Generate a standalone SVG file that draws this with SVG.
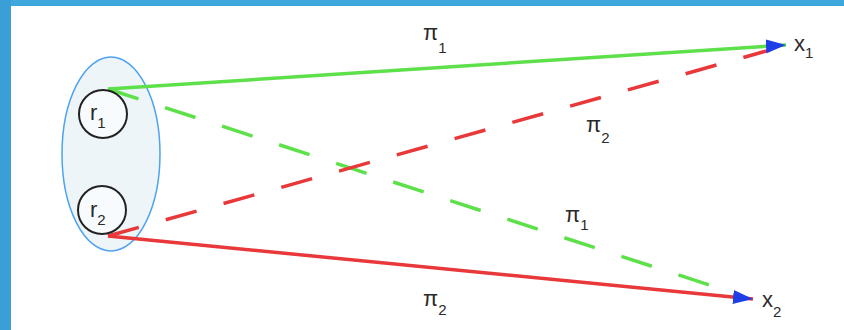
<svg xmlns="http://www.w3.org/2000/svg" width="844" height="330" viewBox="0 0 844 330">
  <style>
    .lbl { font-family: "Liberation Sans", Arial, sans-serif; fill: #2a2a2a; font-size: 22px; }
    .sub { font-size: 15px; }
    .g { stroke: #5ee04a; stroke-width: 3.5; fill: none; }
    .r { stroke: #e8383a; stroke-width: 3.5; fill: none; }
    .d { stroke-dasharray: 32 28; }
    .node { fill: #f8fbfd; stroke: #222; stroke-width: 2; }
  </style>
  <defs>
    <marker id="arr" markerUnits="userSpaceOnUse" markerWidth="22" markerHeight="16" refX="20" refY="7" orient="auto">
      <path d="M0,0 L20,7 L0,14 Z" fill="#1f3fe6"/>
    </marker>
  </defs>
  <rect x="0" y="0" width="844" height="330" fill="#ffffff"/>
  <rect x="0" y="0" width="844" height="6" fill="#3ea8dc"/>
  <rect x="0" y="0" width="11" height="330" fill="#3a9fd6"/>

  <g id="group">
    <ellipse cx="111" cy="154" rx="49" ry="97" fill="#eef5f9" stroke="#4da3f0" stroke-width="1.5"/>
  </g>

  <g id="connectors">
    <line class="g d" x1="108" y1="89" x2="740" y2="295"/>
    <line class="r d" x1="108" y1="236" x2="770" y2="50"/>
    <line class="g" x1="108" y1="89" x2="786" y2="45" marker-end="url(#arr)"/>
    <line class="r" x1="108" y1="236" x2="753" y2="299" marker-end="url(#arr)"/>
    <text class="lbl" x="423" y="40">π<tspan class="sub" dx="0" dy="13">1</tspan></text>
    <text class="lbl" x="586" y="132">π<tspan class="sub" dy="11">2</tspan></text>
    <text class="lbl" x="565" y="222">π<tspan class="sub" dy="8">1</tspan></text>
    <text class="lbl" x="423" y="306">π<tspan class="sub" dy="9">2</tspan></text>
  </g>

  <g id="r1">
    <circle class="node" cx="103" cy="114" r="24"/>
    <text class="lbl" x="90" y="120">r<tspan class="sub" dy="8">1</tspan></text>
  </g>
  <g id="r2">
    <circle class="node" cx="102" cy="210" r="24"/>
    <text class="lbl" x="90" y="217">r<tspan class="sub" dy="8">2</tspan></text>
  </g>
  <g id="x1">
    <text class="lbl" x="794" y="51">x<tspan class="sub" dy="7">1</tspan></text>
  </g>
  <g id="x2">
    <text class="lbl" x="762" y="307">x<tspan class="sub" dy="10">2</tspan></text>
  </g>
</svg>
